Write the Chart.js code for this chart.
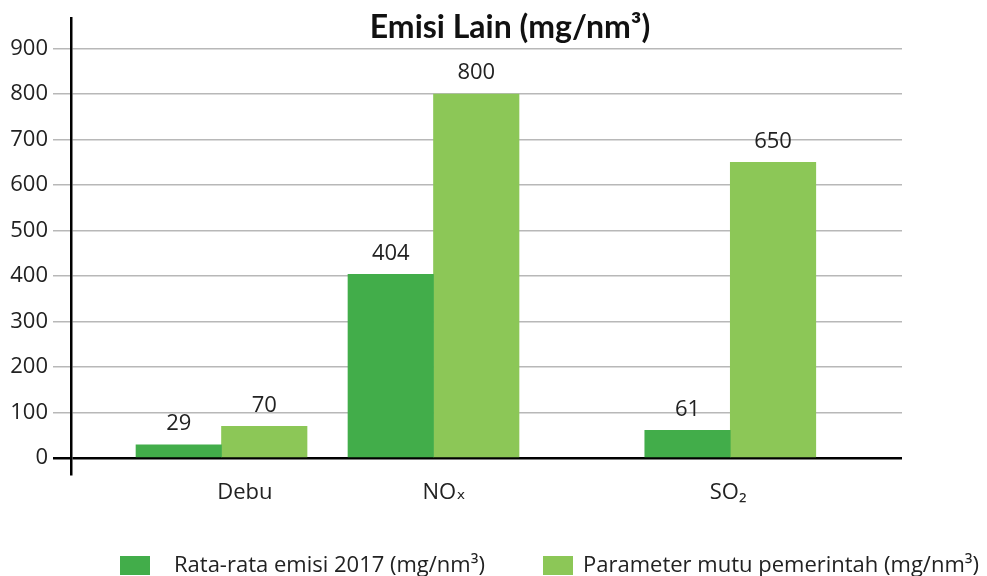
<!DOCTYPE html>
<html>
<head>
<meta charset="utf-8">
<script src="https://cdn.jsdelivr.net/npm/chart.js@4.4.1/dist/chart.umd.min.js"></script>
<style>
  html, body { margin: 0; padding: 0; background: #fff; }
  #wrap { width: 987px; height: 576px; }
</style>
</head>
<body>
<div id="wrap"><canvas id="myChart"></canvas></div>
<script>
let categories = ["Debu", "NOₓ", "SO₂"];
let emisi2017 = [29, 404, 61];
let parameterMutu = [70, 800, 650];
let yTicks = [0, 100, 200, 300, 400, 500, 600, 700, 800, 900];
let seriesNames = ["Rata-rata emisi 2017 (mg/nm³)", "Parameter mutu pemerintah (mg/nm³)"];
let chartTitle = "Emisi Lain (mg/nm³)";

// layout only: where each bar group and each axis label sit along x
let groupPos = [3.55, 8.55, 15.55];
let labelPos = [4.1, 8.8, 15.5];

let darkGreen = "#42ad4a";
let lightGreen = "#8cc757";
let font = "'Open Sans', 'DejaVu Sans', sans-serif";

let extras = {
  id: "extras",
  afterDatasetsDraw(chart) {
    let ctx = chart.ctx;
    ctx.save();
    // value labels above bars
    ctx.font = "22px " + font;
    ctx.fillStyle = "#222";
    ctx.textAlign = "center";
    ctx.textBaseline = "middle";
    chart.data.datasets.forEach((ds, i) => {
      chart.getDatasetMeta(i).data.forEach((bar, j) => {
        ctx.fillText(ds.data[j].y, bar.x, bar.y - 21);
      });
    });
    // title
    ctx.font = "bold 32px Lato, sans-serif";
    ctx.fillStyle = "#111";
    ctx.textBaseline = "alphabetic";
    ctx.fillText(chartTitle, 510, 38);
    // legend
    let boxX = [120, 543];
    let textX = [174, 583];
    ctx.font = "22px " + font;
    ctx.textAlign = "left";
    chart.data.datasets.forEach((ds, i) => {
      ctx.fillStyle = ds.backgroundColor;
      ctx.fillRect(boxX[i], 556, 30, 19);
      ctx.fillStyle = "#222";
      ctx.fillText(ds.label, textX[i], 572);
    });
    ctx.restore();
  }
};

let ctx = document.getElementById("myChart").getContext("2d");
let myChart = new Chart(ctx, {
  type: "bar",
  data: {
    datasets: [
      {
        label: seriesNames[0],
        data: emisi2017.map((v, i) => ({ x: groupPos[i], y: v })),
        backgroundColor: darkGreen,
      },
      {
        label: seriesNames[1],
        data: parameterMutu.map((v, i) => ({ x: groupPos[i], y: v })),
        backgroundColor: lightGreen,
      },
    ],
  },
  options: {
    responsive: true,
    maintainAspectRatio: false,
    animation: false,
    barThickness: 85.5,
    layout: { padding: { top: 0, right: 85, left: 0, bottom: 0 } },
    plugins: {
      legend: { display: false },
      tooltip: { enabled: false },
    },
    scales: {
      x: {
        type: "linear",
        offset: false,
        min: 0,
        max: 19.6,
        grid: { display: false, drawTicks: false },
        border: { display: false },
        afterBuildTicks: (s) => { s.ticks = labelPos.map((v) => ({ value: v })); },
        afterFit: (s) => { s.height = 102; },
        ticks: {
          autoSkip: false,
          maxRotation: 0,
          padding: 6,
          color: "#222",
          font: { family: font, size: 22 },
          callback: (v, i) => categories[i],
        },
      },
      y: {
        min: -35,
        max: 967,
        afterBuildTicks: (s) => { s.ticks = yTicks.map((v) => ({ value: v })); },
        afterFit: (s) => { s.width = 71; },
        border: { display: true, color: "#000", width: 2.5 },
        grid: {
          drawTicks: true,
          tickLength: 18,
          color: (c) => (c.tick && c.tick.value === 0 ? "#000" : "#b8b8b8"),
          lineWidth: (c) => (c.tick && c.tick.value === 0 ? 2.5 : 1.5),
        },
        ticks: {
          padding: 5,
          color: "#222",
          font: { family: font, size: 22 },
        },
      },
    },
  },
  plugins: [extras],
});
</script>
</body>
</html>
